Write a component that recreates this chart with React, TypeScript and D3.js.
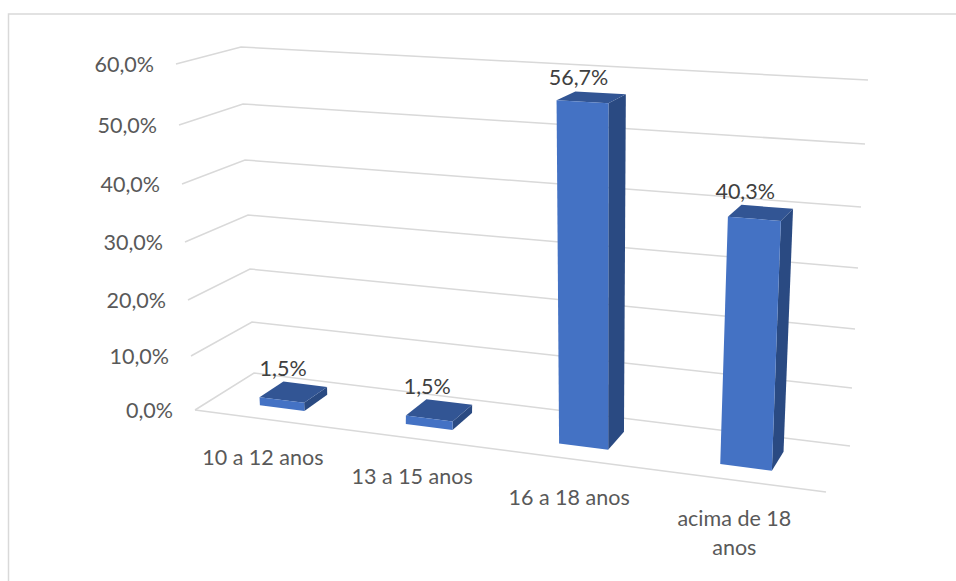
import React from "react";
import * as d3 from "d3";

// Age groups and their shares (percent)
const categories = ["10 a 12 anos", "13 a 15 anos", "16 a 18 anos", "acima de 18 anos"];
const shares = [1.5, 1.5, 56.7, 40.3];
const shareLabels = ["1,5%", "1,5%", "56,7%", "40,3%"];
const axisTicks = [0, 10, 20, 30, 40, 50, 60];
const axisLabels = ["0,0%", "10,0%", "20,0%", "30,0%", "40,0%", "50,0%", "60,0%"];

// Box corners of the 3D plot area on screen, one entry per axis tick
const frontLeftX = [195, 191, 188, 185, 182, 179, 176];
const frontLeftY = [410, 356, 300, 242, 184, 125, 64];
const backLeftX = [254, 252, 250, 248, 245, 243, 241];
const backLeftY = [373, 322, 269, 215, 160, 104, 47];
const backRightX = [850, 852, 855, 858, 861, 865, 868];
const backRightY = [446, 388, 329, 268, 207, 144, 80];
const frontRightX = [826, 829, 831, 834, 836, 839, 842];
const frontRightY = [492, 430, 366, 301, 236.5, 170.5, 102];

const WIDTH = 956;
const HEIGHT = 581;
const DEPTH_FRONT = 0.28;
const DEPTH_BACK = 0.7;

const corner = (range: number[]) => d3.scaleLinear().domain(axisTicks).range(range);
const flx = corner(frontLeftX), fly = corner(frontLeftY);
const blx = corner(backLeftX), bly = corner(backLeftY);
const brx = corner(backRightX), bry = corner(backRightY);
const frx = corner(frontRightX), fry = corner(frontRightY);

// Perspective map of the unit floor square (u across, d into the page) at height v
function project(u: number, d: number, v: number): [number, number] {
  const x0 = flx(v), y0 = fly(v), x1 = frx(v), y1 = fry(v);
  const x2 = brx(v), y2 = bry(v), x3 = blx(v), y3 = bly(v);
  const dx1 = x1 - x2, dx2 = x3 - x2, sx = x0 - x1 + x2 - x3;
  const dy1 = y1 - y2, dy2 = y3 - y2, sy = y0 - y1 + y2 - y3;
  const den = dx1 * dy2 - dx2 * dy1;
  const g = (sx * dy2 - dx2 * sy) / den;
  const h = (dx1 * sy - sx * dy1) / den;
  const a = x1 - x0 + g * x1, b = x3 - x0 + h * x3;
  const c = y1 - y0 + g * y1, e = y3 - y0 + h * y3;
  const w = g * u + h * d + 1;
  return [(a * u + b * d + x0) / w, (c * u + e * d + y0) / w];
}

const band = d3.scaleBand<string>().domain(categories).range([-0.002, 0.996]).paddingInner(0.69).paddingOuter(0.345);
const line = d3.line();

function Bar({ name, value }: { name: string; value: number }) {
  const u0 = band(name)!;
  const u1 = u0 + band.bandwidth();
  const face = (pts: [number, number, number][]) => line(pts.map(p => project(p[0], p[1], p[2])))! + "Z";
  return (
    <g>
      <path d={face([[u1, DEPTH_FRONT, 0], [u1, DEPTH_BACK, 0], [u1, DEPTH_BACK, value], [u1, DEPTH_FRONT, value]])} fill="#2a4a82" />
      <path d={face([[u0, DEPTH_FRONT, value], [u1, DEPTH_FRONT, value], [u1, DEPTH_BACK, value], [u0, DEPTH_BACK, value]])} fill="#325594" />
      <path d={face([[u0, DEPTH_FRONT, 0], [u1, DEPTH_FRONT, 0], [u1, DEPTH_FRONT, value], [u0, DEPTH_FRONT, value]])} fill="#4472c4" />
    </g>
  );
}

export default function App() {
  const font = "Lato, 'Open Sans', sans-serif";
  return (
    <svg width={WIDTH} height={HEIGHT} style={{ position: "absolute", left: 0, top: 0, background: "#fff" }} fontFamily={font}>
      <path d="M8.5 581V14H956" fill="none" stroke="#d9d9d9" strokeWidth={1.5} />
      {axisTicks.map(t => (
        <path key={t} d={line([[flx(t), fly(t)], [blx(t), bly(t)], [brx(t), bry(t)]])!} fill="none" stroke="#d9d9d9" strokeWidth={1.5} />
      ))}
      <path d={line([[flx(0), fly(0)], [frx(0), fry(0)]])!} fill="none" stroke="#d9d9d9" strokeWidth={1.5} />
      {axisTicks.map((t, i) => (
        <text key={t} x={flx(t) - 22} y={fly(t) + 8} textAnchor="end" fontSize={21.5} fill="#595959">{axisLabels[i]}</text>
      ))}
      {categories.map((c, i) => <Bar key={c} name={c} value={shares[i]} />)}
      {categories.map((c, i) => {
        const [x, y] = project(band(c)! + band.bandwidth() / 2, DEPTH_BACK, shares[i]);
        return <text key={c} x={x - 22} y={y - 8} textAnchor="middle" fontSize={21.5} fill="#404040">{shareLabels[i]}</text>;
      })}
      {categories.map(c => {
        const [x, y] = project(band(c)! + band.bandwidth() / 2, 0, 0);
        const lines = c === "acima de 18 anos" ? ["acima de 18", "anos"] : [c];
        return (
          <text key={c} textAnchor="middle" fontSize={21.5} fill="#595959">
            {lines.map((l, i) => <tspan key={l} x={x - 3} y={y + 45.5 + i * 29}>{l}</tspan>)}
          </text>
        );
      })}
    </svg>
  );
}
